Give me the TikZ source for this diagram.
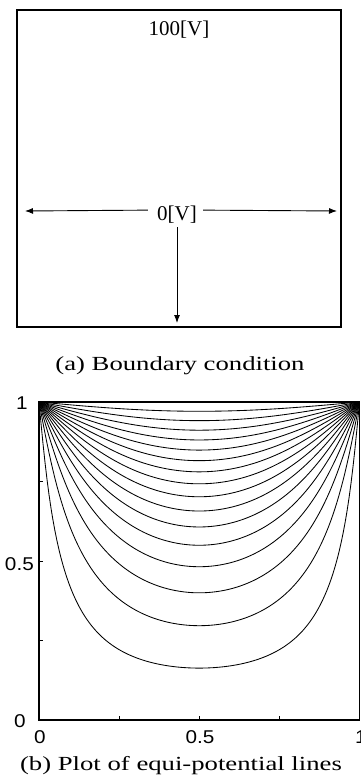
\documentclass[tikz,border=0pt]{standalone}
\usepackage{fontspec}
\setmainfont{Liberation Serif}
\newfontfamily\capfont[FakeStretch=1.335]{Liberation Serif}
\newfontfamily\tickfont[FakeStretch=1.12]{Liberation Sans}
\usetikzlibrary{arrows.meta}
\begin{document}
\begin{tikzpicture}[x=1pt,y=-1pt,
  declare function={
    sv(\x)=sin(180*\x);
    stp(\x,\L,\u)=0.75*sv(\x)/tan(0.9*(\L+0.4773*sv(\x)*\u))+0.25*\u;
    ua(\x,\L)=sv(\x)/tan(0.9*(\L+1.5*sv(\x)));
    ub(\x,\L)=stp(\x,\L,ua(\x,\L));
    uc(\x,\L)=stp(\x,\L,ub(\x,\L));
    ud(\x,\L)=stp(\x,\L,uc(\x,\L));
    ue(\x,\L)=stp(\x,\L,ud(\x,\L));
    uf(\x,\L)=stp(\x,\L,ue(\x,\L));
    ash(\u)=ln(\u+sqrt(\u*\u+1));
    yc(\x,\L)=1-ash(uf(\x,\L))/pi;
  },
  boxframe/.style={draw, line width=1.2pt},
  arr/.style={line width=0.9pt, -{Latex[length=8pt,width=6pt]}},
  vlabel/.style={font=\fontsize{21}{24}\selectfont, inner sep=0pt},
  caption/.style={font=\capfont\fontsize{20}{24}\selectfont, inner sep=0pt, anchor=base},
  ticklab/.style={font=\tickfont\fontsize{18.5}{20}\selectfont, inner sep=0pt},
  cline/.style={line width=0.85pt},
  axisframe/.style={draw, line width=1.7pt},
  tickmark/.style={line width=0.8pt},
]
\useasboundingbox (0,0) rectangle (361,779);
\clip (0,0) rectangle (361,779);

% ---------- (a) boundary condition ----------
\node[boxframe, minimum width=324pt, minimum height=317pt, inner sep=0pt] (box) at (179,168.5) {};
\node[vlabel, anchor=base] (top) at (179,35) {100[V]};
\node[vlabel, anchor=base] (zero) at (177,220) {0[V]};
\coordinate (lend) at (25,211);
\coordinate (rend) at (337,211);
\coordinate (dend) at (177,323);
\draw[arr] ([xshift=-9pt,yshift=4pt]zero.west) -- (lend);
\draw[arr] ([xshift=6pt,yshift=4pt]zero.east) -- (rend);
\draw[arr] ([yshift=-4pt]zero.south) -- (dend);
\node[caption] (capa) at (180,370.7) {(a) Boundary condition};

% ---------- (b) equipotential plot ----------
\begin{scope}
\clip (39,402) rectangle (359.5,720);
\foreach \k in {1,...,16}{
  \draw[cline] plot[domain=0:1, samples=161, variable=\t]
    ({39+320.5*\t},{720-318*yc(\t,\k*100/17)});
}
\end{scope}
\node[axisframe, minimum width=320.5pt, minimum height=318pt, inner sep=0pt] (plot) at (199.25,561) {};
\foreach \f in {0.25,0.5,0.75}{
  \draw[tickmark] ({39+320.5*\f},720) -- ++(0,-4);
  \draw[tickmark] (39,{720-318*\f}) -- ++(4,0);
}
\node[ticklab] (y1) at (22,403) {1};
\node[ticklab, anchor=east] (y05) at (34,564) {0.5};
\node[ticklab] (y0) at (20,721) {0};
\node[ticklab] (x0) at (40,737.5) {0};
\node[ticklab] (x05) at (200,737.5) {0.5};
\node[ticklab] (x1) at (361,737.5) {1};
\node[caption] (capb) at (181,770) {(b) Plot of equi-potential lines};
\end{tikzpicture}
\end{document}
